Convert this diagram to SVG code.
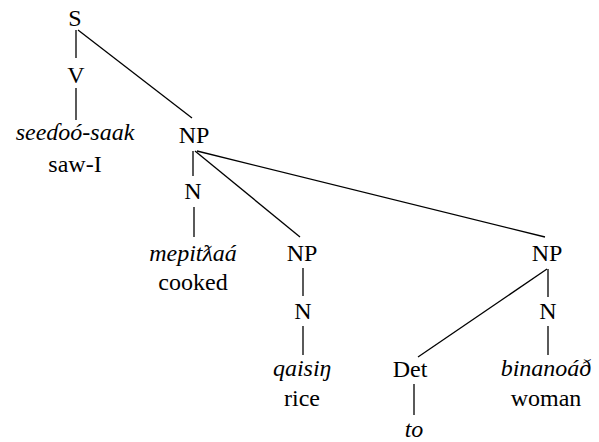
<svg xmlns="http://www.w3.org/2000/svg" width="599" height="442" viewBox="0 0 599 442">
<style>
.t text{font-size:24px;fill:#000;text-anchor:middle}
.i{font-style:italic}
#edges line{stroke:#000;stroke-width:1.3}
</style>
<rect width="599" height="442" fill="#fff"/>
<g id="edges">
<line x1="76" y1="30" x2="76" y2="58"/>
<line x1="78" y1="30" x2="192" y2="118"/>
<line x1="76" y1="88" x2="76" y2="120"/>
<line x1="193" y1="151" x2="193" y2="176"/>
<line x1="195" y1="151" x2="300" y2="237"/>
<line x1="197" y1="151" x2="545" y2="237"/>
<line x1="194" y1="207" x2="194" y2="237"/>
<line x1="303" y1="268" x2="303" y2="296"/>
<line x1="303" y1="326" x2="303" y2="355"/>
<line x1="547" y1="269" x2="418" y2="357"/>
<line x1="548" y1="269" x2="548" y2="297"/>
<line x1="548" y1="326" x2="548" y2="355"/>
<line x1="414" y1="384" x2="414" y2="415"/>
</g>
<g class="t" font-family="Liberation Serif, Times New Roman, DejaVu Serif, serif">
<g id="S"><text x="75" y="26">S</text></g>
<g id="V"><text x="76" y="83">V</text></g>
<g id="seedoo"><text class="i" x="75" y="140">seeɗoó-saak</text><text x="75" y="172">saw-I</text></g>
<g id="NP1"><text x="194" y="143">NP</text></g>
<g id="N1"><text x="193" y="199">N</text></g>
<g id="mepit"><text class="i" x="193" y="261">mepitƛaá</text><text x="193" y="290">cooked</text></g>
<g id="NP2"><text x="302" y="261">NP</text></g>
<g id="N2"><text x="303" y="319">N</text></g>
<g id="qaisin"><text class="i" x="302" y="376">qaisiŋ</text><text x="302" y="406">rice</text></g>
<g id="NP3"><text x="547" y="261">NP</text></g>
<g id="Det"><text x="410" y="377">Det</text></g>
<g id="to"><text class="i" x="414" y="437">to</text></g>
<g id="N3"><text x="548" y="319">N</text></g>
<g id="binanoad"><text class="i" x="546" y="376">binanoáð</text><text x="546" y="406">woman</text></g>
</g>
</svg>
